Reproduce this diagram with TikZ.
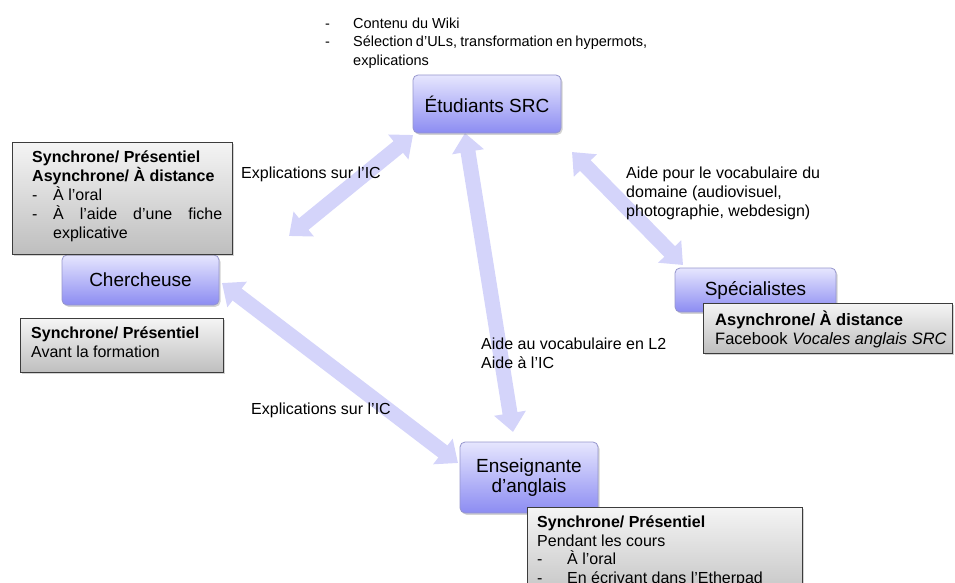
\documentclass[tikz,border=0pt]{standalone}
\usepackage{fontspec}
\setmainfont{Liberation Sans}
\usetikzlibrary{arrows.meta,shadows}
\hyphenpenalty=10000
\exhyphenpenalty=10000
\newcommand\dashitem[3]{\noindent\makebox[#1][l]{-}\parbox[t]{#2}{#3}\par}
\newcommand\ptext[2]{\parbox[t]{#1}{#2}}
\definecolor{lavtop}{RGB}{230,230,254}
\definecolor{lavbot}{RGB}{140,140,242}
\definecolor{lavline}{RGB}{150,150,205}
\definecolor{graytop}{RGB}{244,244,244}
\definecolor{graybot}{RGB}{190,190,190}
\definecolor{grayline}{RGB}{60,60,60}
\definecolor{arrowcol}{RGB}{212,212,250}
\begin{document}
\begin{tikzpicture}[x=1pt,y=-1pt,
  actor/.style={draw=lavline, line width=0.8pt, rounded corners=5pt,
    top color=lavtop, bottom color=lavbot, align=center, inner sep=0pt,
    font=\fontsize{19}{20.5}\selectfont,
    drop shadow={opacity=0.35,shadow xshift=1.5pt,shadow yshift=-1.8pt}},
  infobox/.style={draw=grayline, line width=1.2pt, top color=graytop,
    bottom color=graybot, inner sep=0pt, anchor=north west,
    drop shadow={opacity=0.35,shadow xshift=1.5pt,shadow yshift=-1.8pt}},
  infotext/.style={anchor=base west, inner sep=0pt, font=\fontsize{16}{19}\selectfont},
  label/.style={anchor=base west, inner sep=0pt, font=\fontsize{16}{19}\selectfont},
  bigarrow/.style={draw=arrowcol, line width=15pt,
    arrows={Triangle[width=31pt,length=19pt]-Triangle[width=31pt,length=19pt]}},
]
\useasboundingbox (0,0) rectangle (955,583);
\begin{scope}
\clip (0,0) rectangle (955,583);

% arrow end points
\coordinate (a1s) at (413,135);
\coordinate (a1e) at (289,236);
\coordinate (a2s) at (465,133);
\coordinate (a2e) at (513,432);
\coordinate (a3s) at (572,152);
\coordinate (a3e) at (683,265);
\coordinate (a4s) at (222,283);
\coordinate (a4e) at (458,463);

\draw[bigarrow] (a1s) -- (a1e);
\draw[bigarrow] (a2s) -- (a2e);
\draw[bigarrow] (a3s) -- (a3e);
\draw[bigarrow] (a4s) -- (a4e);

% top list
\node[label, font=\fontsize{14.5}{18.5}\selectfont] (toplist) at (325,28.5)
  {\ptext{322pt}{\dashitem{28pt}{294pt}{Contenu du Wiki}%
   \dashitem{28pt}{294pt}{Sélection d’ULs, transformation en hypermots, explications}}};

% actors
\node[actor, minimum width=148pt, minimum height=58pt] (etu) at (487,104) {Étudiants SRC};
\node[actor, minimum width=157pt, minimum height=50pt] (cher) at (140.5,280) {Chercheuse};
\node[actor, minimum width=161pt, minimum height=44pt] (spec) at (755.5,290) {Spécialistes};
\node[actor, minimum width=138pt, minimum height=71pt] (ens) at (529,477.5) {Enseignante\\d’anglais};

% info boxes
\node[infobox, minimum width=220pt, minimum height=112pt] (g1) at (12,142) {};
\node[infotext] (g1t) at (32,162.5)
  {\ptext{190pt}{\textbf{Synchrone/ Présentiel}\par
   \textbf{Asynchrone/ À distance}\par
   \dashitem{21pt}{169pt}{À l’oral}%
   \dashitem{21pt}{169pt}{À l’aide d’une fiche explicative}}};

\node[infobox, minimum width=203pt, minimum height=54pt] (g2) at (20,318) {};
\node[infotext] (g2t) at (31,338.5)
  {\ptext{185pt}{\textbf{Synchrone/ Présentiel}\par Avant la formation}};

\node[infobox, minimum width=249pt, minimum height=50pt] (g3) at (703,303) {};
\node[infotext, font=\fontsize{16.5}{18.5}\selectfont] (g3t) at (715,325.5)
  {\ptext{235pt}{\textbf{Asynchrone/ À distance}\par Facebook \textit{Vocales anglais SRC}}};

\node[infobox, minimum width=275pt, minimum height=100pt] (g4) at (527,507) {};
\node[infotext, font=\fontsize{16}{18.7}\selectfont] (g4t) at (537,527.5)
  {\ptext{260pt}{\textbf{Synchrone/ Présentiel}\par Pendant les cours\par
   \dashitem{30pt}{230pt}{À l’oral}%
   \dashitem{30pt}{230pt}{En écrivant dans l’Etherpad}}};

% connector labels
\node[label] (l1) at (241,178.5) {Explications sur l’IC};
\node[label] (l2) at (626,178.5)
  {\ptext{260pt}{Aide pour le vocabulaire du\par domaine (audiovisuel,\par photographie, webdesign)}};
\node[label] (l3) at (481,349.5)
  {\ptext{200pt}{Aide au vocabulaire en L2\par Aide à l’IC}};
\node[label] (l4) at (251,414.5) {Explications sur l’IC};
\end{scope}
\end{tikzpicture}
\end{document}
